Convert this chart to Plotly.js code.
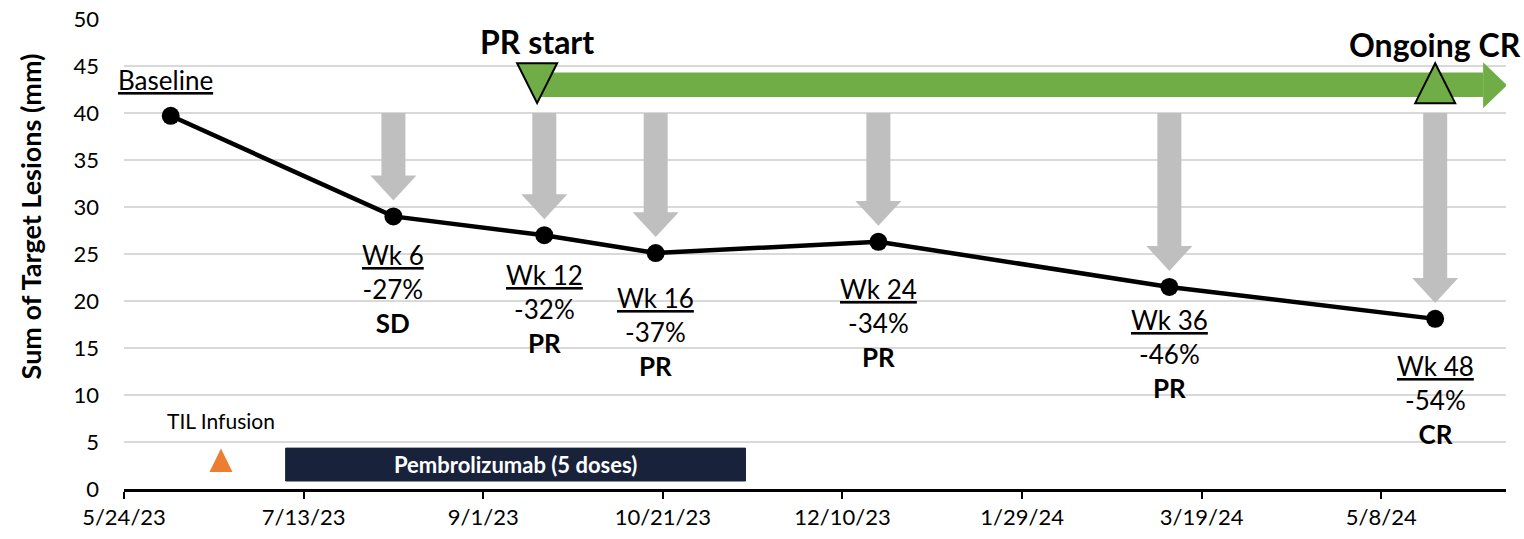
<!DOCTYPE html>
<html>
<head>
<meta charset="utf-8">
<script src="https://cdn.plot.ly/plotly-3.0.1.min.js"></script>
<style>
html,body{margin:0;padding:0;background:#ffffff;}
#chart{width:1524px;height:539px;}
</style>
</head>
<body>
<div id="chart"></div>
<script>
// ---------------- data ----------------
const visitDates   = ['2023-06-06','2023-08-07','2023-09-18','2023-10-19','2023-12-20','2024-03-10','2024-05-23'];
const lesionSum    = [39.7, 29.0, 27.0, 25.1, 26.3, 21.5, 18.1];
const visitLabels  = ['Baseline','Wk 6','Wk 12','Wk 16','Wk 24','Wk 36','Wk 48'];
const pctChange    = ['', '-27%', '-32%', '-37%', '-34%', '-46%', '-54%'];
const responses    = ['', 'SD', 'PR', 'PR', 'PR', 'PR', 'CR'];

const tilInfusionDate = '2023-06-20';
const pembroStart     = '2023-07-08';
const pembroEnd       = '2023-11-13';
const pembroLabel     = 'Pembrolizumab (5 doses)';
const prStartDate     = '2023-09-16';
const ongoingCrDate   = '2024-05-23';
const responseArrowHeadDate = '2024-06-05 08:00';

const tickDates  = ['2023-05-24','2023-07-13','2023-09-01','2023-10-21','2023-12-10','2024-01-29','2024-03-19','2024-05-08'];
const tickLabels = ['5/24/23','7/13/23','9/1/23','10/21/23','12/10/23','1/29/24','3/19/24','5/8/24'];
const xRangeEnd  = '2024-06-11 17:00';

// ---------------- styling ----------------
const FONT = 'Lato, "Open Sans", sans-serif';
const GRAY = '#BFBFBF', GREEN = '#70AD47', NAVY = '#18233B', ORANGE = '#ED7D31';
const labelShift = [0, 21, 22, 27, 29, 15, 29]; // px below each point (text layout only)

const shapes = [];
const annotations = [];

// grey downward arrows above each follow-up assessment
for (let i = 1; i < visitDates.length; i++) {
  const tip = lesionSum[i] + 1.7;
  const headBase = tip + 2.65;
  const top = 40;
  shapes.push({
    type: 'path', xref: 'x', yref: 'y', xsizemode: 'pixel', xanchor: visitDates[i],
    path: `M-12,${top} L12,${top} L12,${headBase} L23,${headBase} L0,${tip} L-23,${headBase} L-12,${headBase} Z`,
    fillcolor: GRAY, line: {width: 0}, layer: 'above'
  });
}

// green response arrow
shapes.push({type:'rect', xref:'x', yref:'y', x0: prStartDate, x1: responseArrowHeadDate, y0: 41.7, y1: 44.3,
  fillcolor: GREEN, line:{width:0}, layer:'above'});
shapes.push({type:'path', xref:'x', yref:'y', xsizemode:'pixel', xanchor: responseArrowHeadDate,
  path: 'M0,40.5 L24,42.95 L0,45.4 Z', fillcolor: GREEN, line:{width:0}, layer:'above'});
// PR start (down) and ongoing CR (up) triangles
shapes.push({type:'path', xref:'x', yref:'y', xsizemode:'pixel', xanchor: prStartDate,
  path: 'M-20,45.3 L20,45.3 L0,41.05 Z', fillcolor: GREEN, line:{color:'#000', width:2}, layer:'above'});
shapes.push({type:'path', xref:'x', yref:'y', xsizemode:'pixel', xanchor: ongoingCrDate,
  path: 'M-20,41.05 L20,41.05 L0,45.3 Z', fillcolor: GREEN, line:{color:'#000', width:2}, layer:'above'});

// pembrolizumab bar
shapes.push({type:'rect', xref:'x', yref:'y', x0: pembroStart, x1: pembroEnd, y0: 0.85, y1: 4.35,
  fillcolor: NAVY, line:{color: NAVY, width:1}, layer:'above'});
// TIL infusion triangle
shapes.push({type:'path', xref:'x', yref:'y', xsizemode:'pixel', xanchor: tilInfusionDate,
  path: 'M-11.5,1.8 L11.5,1.8 L0,4.3 Z', fillcolor: ORANGE, line:{width:0}, layer:'above'});

// labels
annotations.push({x: visitDates[0], y: lesionSum[0], xref:'x', yref:'y', text: '<u>' + visitLabels[0] + '</u>',
  showarrow:false, yanchor:'middle', yshift: 36, xshift: -5, font:{family: FONT, size: 26, color:'#000'}});
for (let i = 1; i < visitDates.length; i++) {
  annotations.push({x: visitDates[i], y: lesionSum[i], xref:'x', yref:'y',
    text: '<u>' + visitLabels[i] + '</u><br>' + pctChange[i] + '<br><b>' + responses[i] + '</b>',
    showarrow:false, yanchor:'top', yshift: -labelShift[i], align:'center',
    font:{family: FONT, size: 26, color:'#000'}});
}
annotations.push({x: prStartDate, y: 45.3, xref:'x', yref:'y', text:'<b>PR start</b>', showarrow:false,
  yanchor:'bottom', yshift: 0, font:{family: FONT, size: 32, color:'#000'}});
annotations.push({x: ongoingCrDate, y: 45.3, xref:'x', yref:'y', text:'<b>Ongoing CR</b>', showarrow:false,
  yanchor:'bottom', yshift: -3, font:{family: FONT, size: 32, color:'#000'}});
annotations.push({x: tilInfusionDate, y: 7.3, xref:'x', yref:'y', text:'TIL Infusion', showarrow:false,
  font:{family: FONT, size: 21, color:'#000'}});
const pembroMid = new Date((new Date(pembroStart).getTime() + new Date(pembroEnd).getTime()) / 2).toISOString().slice(0,10);
annotations.push({x: pembroMid, y: 2.6, xref:'x', yref:'y', text:'<b>' + pembroLabel + '</b>', showarrow:false,
  font:{family: FONT, size: 22, color:'#fff'}});
annotations.push({x: -0.068, y: 0.58, xref:'paper', yref:'paper', xanchor:'center', yanchor:'middle',
  text:'<b>Sum of Target Lesions (mm)</b>',
  textangle: -90, showarrow:false, font:{family: FONT, size: 27, color:'#000'}});

const traces = [{
  x: visitDates, y: lesionSum, type:'scatter', mode:'lines+markers',
  line:{color:'#000', width:4.5}, marker:{size:18, color:'#000'},
  showlegend:false, cliponaxis:false, hoverinfo:'x+y'
}];

const layout = {
  width: 1524, height: 539,
  margin: {l:124, r:18, t:19, b:50},
  paper_bgcolor:'#fff', plot_bgcolor:'#fff',
  font: {family: FONT, color:'#000'},
  showlegend: false,
  xaxis: {
    type:'date', range: [tickDates[0], xRangeEnd],
    tickmode:'array', tickvals: tickDates, ticktext: tickLabels,
    showgrid:false, zeroline:false, showline:true, linecolor:'#000', linewidth:3,
    ticks:'outside', ticklen:7, tickwidth:2, tickcolor:'#000',
    tickfont:{family: FONT, size:22, color:'#000'}
  },
  yaxis: {
    range:[0,50], dtick:5, tick0:0, showgrid:true, gridcolor:'#D9D9D9', gridwidth:1.5,
    zeroline:false, showline:false, ticks:'', ticklabelstandoff: 24,
    tickfont:{family: FONT, size:22, color:'#000'}
  },
  shapes: shapes,
  annotations: annotations
};

Plotly.newPlot('chart', traces, layout, {displayModeBar:false, staticPlot:true});
</script>
</body>
</html>
